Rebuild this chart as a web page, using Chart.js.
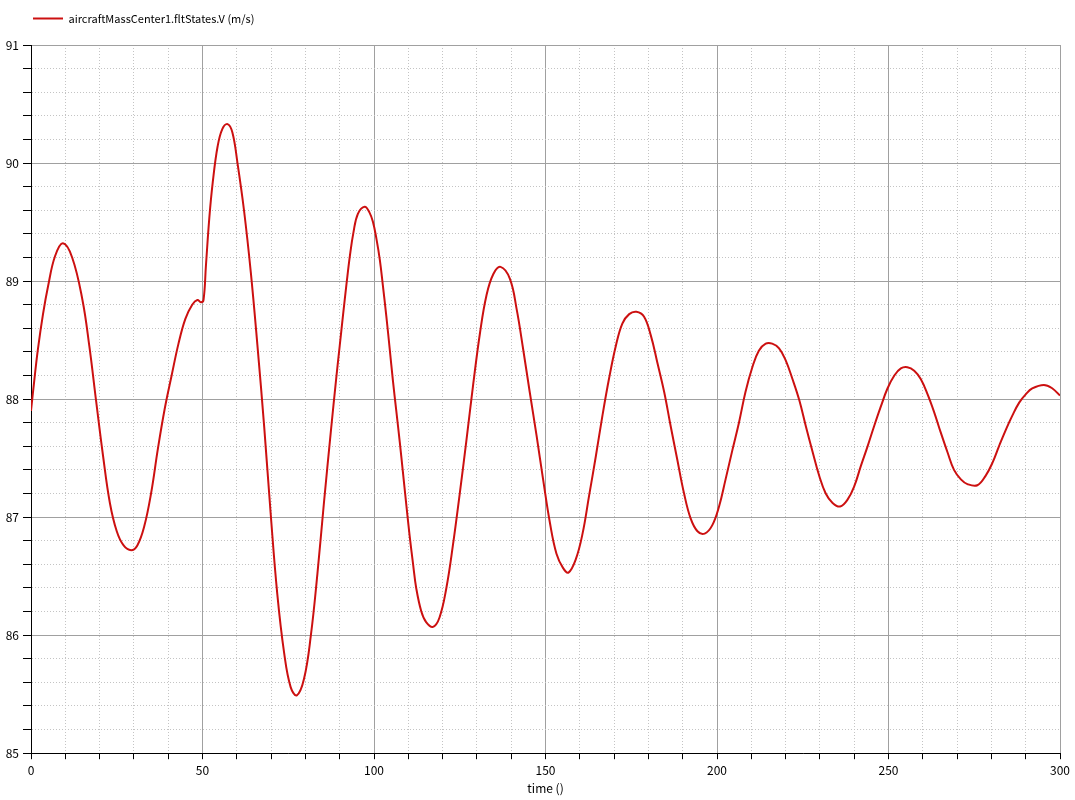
<!DOCTYPE html>
<html>
<head>
<meta charset="utf-8">
<script src="https://cdn.jsdelivr.net/npm/chart.js@4/dist/chart.umd.min.js"></script>
<style>
  html, body { margin: 0; padding: 0; background: #fff; }
  #wrap { width: 1075px; height: 800px; }
</style>
</head>
<body>
<div id="wrap"><canvas id="plot" width="1075" height="800"></canvas></div>
<script>
// time samples (s)
const time = [
  0, 1, 2, 3.5, 5, 7, 9.3, 12, 15, 17, 19, 21, 23, 25, 27, 29.2, 31, 33, 35, 37,
  39, 41, 43, 45, 47, 48.5, 49.6, 50.3, 51, 52, 53, 54.4, 55.8, 57.3, 58.7, 60.2, 62.1, 64.1, 66, 68,
  69.9, 71.8, 73.8, 75.7, 77.5, 79.6, 81.6, 83.5, 85.4, 87.4, 89, 90, 91, 92, 93, 94, 95.3, 97.3, 98.7, 99.7,
  100.7, 101.7, 102.6, 103.6, 104.6, 105.5, 106.5, 107.5, 108.4, 109.4, 110.4, 111.4, 112.3, 113.8, 115.2, 117.2, 119.1, 121.1, 123, 125,
  126.9, 128.9, 130.9, 132.8, 134.8, 136.9, 139.6, 141.6, 143.5, 145.4, 147.4, 149.3, 151.3, 153.2, 155.1, 156.7, 158.8, 160.8, 162.7, 164.7,
  166.6, 168.5, 170.5, 172.4, 174.4, 176.5, 178.7, 180.7, 182.6, 184.6, 186.5, 188.4, 190.4, 192.3, 194.3, 196.4, 198.6, 200.6, 202.5, 204.5,
  206.4, 208.3, 210.3, 212.2, 214.2, 216.1, 218.1, 220, 222, 224, 225.9, 227.9, 229.8, 231.7, 233.7, 235.9, 238.1, 240, 241.9, 243.9,
  245.8, 247.8, 249.7, 251.7, 253.6, 255.5, 257.5, 259.4, 261.4, 263.3, 265.2, 267.2, 269.1, 271.1, 273, 275.9, 278.3, 280.3, 282.2, 284.2,
  286.1, 288.1, 290, 291.9, 295.3, 297.8, 300
];

// aircraftMassCenter1.fltStates.V (m/s)
const speed = [
  87.90, 88.17, 88.42, 88.72, 88.96, 89.21, 89.32, 89.20, 88.84, 88.45, 87.98, 87.52, 87.12, 86.88, 86.76, 86.72, 86.76, 86.92, 87.20, 87.58,
  87.92, 88.20, 88.47, 88.68, 88.80, 88.84, 88.82, 88.84, 89.13, 89.54, 89.84, 90.14, 90.29, 90.33, 90.26, 90.00, 89.60, 89.07, 88.46, 87.76,
  87.02, 86.35, 85.85, 85.56, 85.49, 85.63, 86.00, 86.52, 87.12, 87.72, 88.18, 88.45, 88.72, 88.98, 89.22, 89.41, 89.57, 89.63, 89.58, 89.50,
  89.36, 89.18, 88.96, 88.70, 88.42, 88.16, 87.90, 87.64, 87.39, 87.11, 86.84, 86.60, 86.40, 86.20, 86.11, 86.07, 86.15, 86.40, 86.76, 87.20,
  87.64, 88.12, 88.56, 88.88, 89.06, 89.12, 89.02, 88.76, 88.42, 88.06, 87.69, 87.32, 86.95, 86.69, 86.57, 86.53, 86.64, 86.86, 87.18, 87.52,
  87.86, 88.17, 88.45, 88.64, 88.72, 88.74, 88.70, 88.54, 88.31, 88.06, 87.77, 87.49, 87.20, 86.99, 86.88, 86.86, 86.93, 87.09, 87.32, 87.57,
  87.80, 88.06, 88.27, 88.41, 88.47, 88.47, 88.43, 88.33, 88.17, 87.99, 87.77, 87.55, 87.35, 87.20, 87.12, 87.09, 87.15, 87.26, 87.43, 87.60,
  87.77, 87.94, 88.09, 88.20, 88.26, 88.27, 88.24, 88.17, 88.04, 87.89, 87.72, 87.55, 87.40, 87.32, 87.28, 87.27, 87.35, 87.46, 87.60, 87.74,
  87.86, 87.97, 88.04, 88.09, 88.12, 88.09, 88.03
];

// axis ticks: labelled majors, minors every step
const xMajor = [0, 50, 100, 150, 200, 250, 300];
const yMajor = [85, 86, 87, 88, 89, 90, 91];

const isMajorX = (v) => xMajor.includes(Math.round(v * 1000) / 1000);
const isMajorY = (v) => yMajor.some((m) => Math.abs(m - v) < 1e-6);

const FONT = "'Noto Sans CJK JP', 'DejaVu Sans', sans-serif";
const lineRed = "#cc1010";

const points = time.map((t, i) => ({ x: t, y: speed[i] }));

//Move legend right of the axis labels and leave a gap under it
const legendPlacement = {
  id: "legendPlacement",
  beforeLayout(chart) {
    const lg = chart.legend;
    if (lg && !lg._patched) {
      const fit = lg.fit;
      lg.fit = function () {
        fit.call(this);
        this.height += 11;
      };
      lg._patched = true;
    }
  },
  afterLayout(chart) {
    const lg = chart.legend;
    if (lg) {
      lg.left += 23;
      lg.right += 23;
    }
  },
};

new Chart(document.getElementById("plot"), {
  type: "line",
  data: {
    datasets: [
      {
        label: "aircraftMassCenter1.fltStates.V (m/s)",
        data: points,
        borderColor: lineRed,
        backgroundColor: lineRed,
        borderWidth: 2,
        pointRadius: 0,
        tension: 0.4,
      },
    ],
  },
  plugins: [legendPlacement],
  options: {
    responsive: false,
    animation: false,
    layout: { padding: { left: 0, right: 15, top: 3, bottom: 4 } },
    plugins: {
      legend: {
        position: "top",
        align: "start",
        labels: {
          boxWidth: 30,
          boxHeight: 2,
          padding: 10,
          color: "#000",
          font: { family: FONT, size: 11 },
          generateLabels: (chart) =>
            Chart.defaults.plugins.legend.labels
              .generateLabels(chart)
              .map((l) => ({ ...l, lineWidth: 0 })),
        },
      },
      tooltip: { enabled: false },
    },
    scales: {
      x: {
        type: "linear",
        min: 0,
        max: 300,
        grid: {
          color: (ctx) => (ctx.tick && isMajorX(ctx.tick.value) ? "#a0a0a0" : "#c4c4c4"),
          tickColor: "#000",
          tickLength: 6,
        },
        border: {
          color: "#000",
          width: 1,
          dash: (ctx) => (ctx.tick && !isMajorX(ctx.tick.value) ? [1, 2] : []),
        },
        ticks: {
          stepSize: 10,
          autoSkip: false,
          maxRotation: 0,
          padding: 4,
          color: "#000",
          font: { family: FONT, size: 12 },
          callback: (v) => (isMajorX(v) ? String(v) : ""),
        },
        title: {
          display: true,
          text: "time ()",
          color: "#000",
          font: { family: FONT, size: 12 },
          padding: { top: 0, bottom: 0 },
        },
      },
      y: {
        type: "linear",
        min: 85,
        max: 91,
        afterFit: (scale) => {
          scale.width = 31;
        },
        grid: {
          color: (ctx) => (ctx.tick && isMajorY(ctx.tick.value) ? "#a0a0a0" : "#c4c4c4"),
          tickColor: "#000",
          tickLength: 8,
        },
        border: {
          color: "#000",
          width: 1,
          dash: (ctx) => (ctx.tick && !isMajorY(ctx.tick.value) ? [1, 2] : []),
        },
        ticks: {
          stepSize: 0.2,
          autoSkip: false,
          padding: 4,
          color: "#000",
          font: { family: FONT, size: 12 },
          callback: (v) => (isMajorY(v) ? String(Math.round(v)) : ""),
        },
      },
    },
  },
});
</script>
</body>
</html>
